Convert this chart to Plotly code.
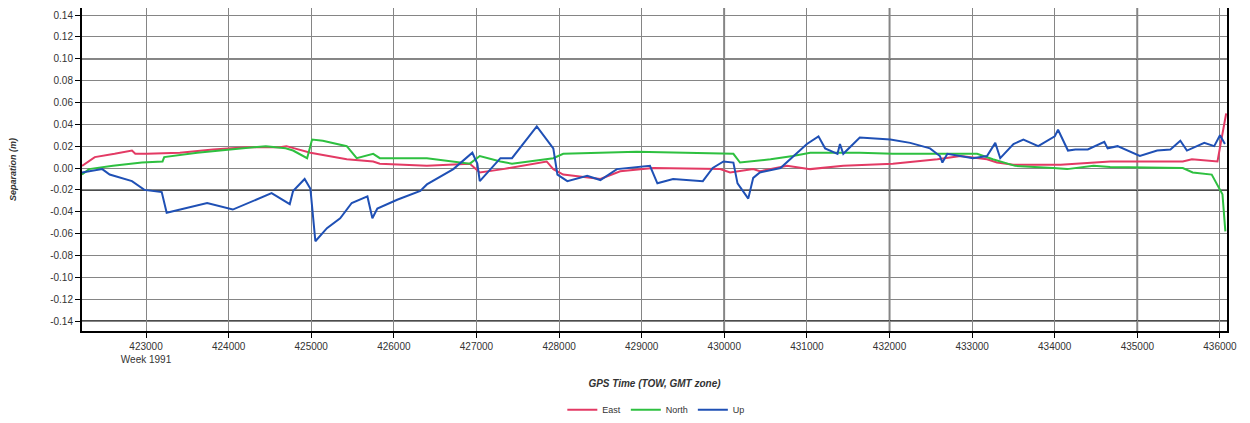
import plotly.graph_objects as go

# GPS time of week (s) and separation (m) for each component
east_t = [422225, 422380, 422620, 422830, 422870, 423010, 423410, 423810, 424220,
          424620, 424700, 424990, 425430, 425750, 425830, 426400, 426920, 427040, 427320,
          427850, 427930, 428050, 428500, 428740, 429140, 429950, 430070, 430350, 430430,
          430760, 431040, 431440, 432040, 432580, 432860, 433180, 433300, 433500, 434070,
          434470, 434670, 434950, 435550, 435660, 435970, 436010, 436075]
east_v = [0.002, 0.010, 0.013, 0.016, 0.013, 0.013, 0.014, 0.017, 0.019,
          0.019, 0.020, 0.014, 0.008, 0.006, 0.004, 0.002, 0.004, -0.004, -0.001,
          0.006, -0.001, -0.006, -0.010, -0.003, 0.000, -0.001, -0.004, -0.001, -0.003,
          0.002, -0.001, 0.002, 0.004, 0.008, 0.011, 0.008, 0.005, 0.003, 0.003,
          0.005, 0.006, 0.006, 0.006, 0.008, 0.006, 0.023, 0.050]

north_t = [422225, 422310, 422600, 422950, 423200, 423220, 423620, 424020, 424450, 424690,
           424780, 424950, 425010, 425140, 425430, 425550, 425750, 425830, 426400, 426920,
           427040, 427290, 427430, 427930, 428050, 428940, 429950, 430110, 430190, 430560,
           430830, 431040, 431640, 432040, 432580, 433060, 433250, 433520, 433980, 434150,
           434470, 434670, 435550, 435670, 435900, 436030, 436065]
north_v = [-0.006, -0.001, 0.002, 0.005, 0.006, 0.010, 0.014, 0.017, 0.020, 0.018,
           0.016, 0.009, 0.026, 0.025, 0.020, 0.009, 0.013, 0.009, 0.009, 0.004,
           0.011, 0.006, 0.004, 0.009, 0.013, 0.015, 0.013, 0.013, 0.005, 0.008,
           0.011, 0.014, 0.014, 0.013, 0.013, 0.013, 0.008, 0.002, 0.000, -0.001,
           0.002, 0.001, 0.000, -0.004, -0.006, -0.024, -0.058]

up_t = [422225, 422470, 422560, 422830, 422980, 423190, 423250, 423410, 423740, 424050, 424300,
        424520, 424740, 424780, 424920, 424990, 425050, 425190, 425350, 425490, 425680,
        425740, 425800, 426040, 426320, 426400, 426720, 426950, 427010, 427040, 427290,
        427430, 427730, 427930, 427980, 428100, 428340, 428500, 428700, 429100, 429190,
        429380, 429740, 429860, 429990, 430110, 430160, 430290, 430350, 430430, 430680,
        431000, 431140, 431220, 431370, 431400, 431440, 431610, 431640, 432010, 432250,
        432490, 432610, 432640, 432700, 433010, 433180, 433280, 433340, 433500, 433620,
        433800, 434000, 434040, 434100, 434160, 434250, 434400, 434600, 434640, 434760,
        434960, 435030, 435240, 435400, 435520, 435600, 435810, 435930, 436000, 436060]
up_v = [-0.004, -0.001, -0.006, -0.012, -0.020, -0.022, -0.041, -0.038, -0.032, -0.038, -0.030,
        -0.023, -0.033, -0.021, -0.010, -0.019, -0.067, -0.055, -0.046, -0.032, -0.026,
        -0.046, -0.037, -0.029, -0.021, -0.015, -0.001, 0.014, 0.004, -0.012, 0.009,
        0.009, 0.038, 0.018, -0.006, -0.012, -0.007, -0.011, -0.001, 0.002, -0.014,
        -0.010, -0.012, 0.000, 0.006, 0.005, -0.014, -0.028, -0.009, -0.004, 0.000,
        0.022, 0.029, 0.018, 0.013, 0.022, 0.013, 0.025, 0.028, 0.026, 0.023,
        0.018, 0.011, 0.005, 0.013, 0.009, 0.011, 0.023, 0.009, 0.022, 0.026,
        0.020, 0.029, 0.035, 0.026, 0.016, 0.017, 0.017, 0.024, 0.018, 0.020,
        0.013, 0.011, 0.016, 0.017, 0.025, 0.016, 0.023, 0.020, 0.030, 0.022]

x_ticks = list(range(423000, 436001, 1000))
x_labels = [str(v) for v in x_ticks]
x_labels[0] = "423000<br>Week 1991"
y_ticks = [round(-0.14 + 0.02 * i, 2) for i in range(15)]
y_labels = ["%.2f" % v for v in y_ticks]

# darker grid lines as they appear in the original
dark_y = [0.10, -0.02, -0.14]
dark_x = [430000, 432000, 435000]

fig = go.Figure()
fig.add_trace(go.Scatter(x=east_t, y=east_v, name="East", mode="lines",
                         line=dict(color="#e33a64", width=2)))
fig.add_trace(go.Scatter(x=north_t, y=north_v, name="North", mode="lines",
                         line=dict(color="#2ec040", width=2)))
fig.add_trace(go.Scatter(x=up_t, y=up_v, name="Up", mode="lines",
                         line=dict(color="#1f50b5", width=2)))

for v in dark_y:
    fig.add_shape(type="line", xref="paper", x0=0, x1=1, y0=v, y1=v,
                  line=dict(color="#111111", width=1.5), layer="below")
for v in dark_x:
    fig.add_shape(type="line", yref="paper", y0=0, y1=1, x0=v, x1=v,
                  line=dict(color="#111111", width=1.5), layer="below")

# page body adds an 8px margin, so the figure is a bit smaller than the window
fig.update_layout(
    width=1242, height=415,
    margin=dict(l=74, r=23, t=0, b=92),
    paper_bgcolor="white", plot_bgcolor="white",
    font=dict(family="Liberation Sans, Arial, sans-serif", size=10, color="#333333"),
    showlegend=True,
    legend=dict(orientation="h", x=0.522, xanchor="center", xref="container",
                y=0.032, yanchor="middle", yref="container",
                font=dict(size=9), itemwidth=30, tracegroupgap=0),
)
fig.update_xaxes(
    range=[422225, 436085], tickvals=x_ticks, ticktext=x_labels,
    showgrid=True, gridcolor="#858585", gridwidth=1, zeroline=False,
    showline=True, linecolor="black", linewidth=2, mirror=True,
    ticks="outside", ticklen=5, tickcolor="black",
    title=dict(text="<b><i>GPS Time (TOW, GMT zone)</i></b>", font=dict(size=10), standoff=16),
    automargin=False,
)
fig.update_yaxes(
    range=[-0.1491, 0.1464], tickvals=y_ticks, ticktext=y_labels,
    showgrid=True, gridcolor="#858585", gridwidth=1, zeroline=False,
    showline=True, linecolor="black", linewidth=2, mirror=True,
    ticks="outside", ticklen=5, tickcolor="black",
    title=dict(text="<b><i>Separation (m)</i></b>", font=dict(size=9), standoff=32),
    automargin=False,
)

fig.write_html("out.html")
